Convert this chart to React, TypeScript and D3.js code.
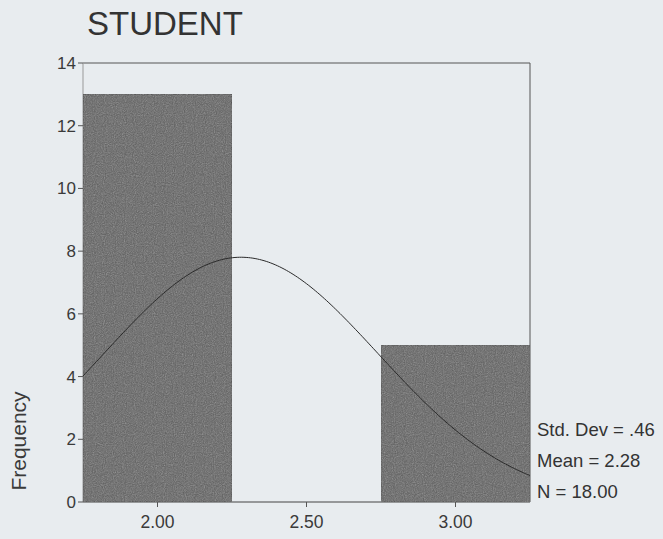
import React from "react";
import * as d3 from "d3";

const title = "STUDENT";
const binCenters = [2.0, 2.5, 3.0];
const counts = [13, 0, 5];
const binWidth = 0.5;
const xTicks = [2.0, 2.5, 3.0];
const yTicks = [0, 2, 4, 6, 8, 10, 12, 14];
const stdDev = 0.46;
const mean = 2.28;
const nCases = 18;
const statLabels = ["Std. Dev = .46", "Mean = 2.28", "N = 18.00"];

const W = 663;
const H = 539;
const left = 83;
const right = 530;
const top = 63;
const bottom = 502;

export default function App() {
  const x = d3.scaleLinear().domain([1.75, 3.25]).range([left, right]);
  const y = d3.scaleLinear().domain([0, 14]).range([bottom, top]);
  const font = "'Liberation Sans', Arial, sans-serif";

  const pdf = (v: number) =>
    (nCases * binWidth) / (stdDev * Math.sqrt(2 * Math.PI)) *
    Math.exp(-0.5 * ((v - mean) / stdDev) ** 2);
  const curvePts = d3.range(0, 201).map((i) => 1.75 + (1.5 * i) / 200);
  const line = d3
    .line<number>()
    .x((d) => x(d))
    .y((d) => y(pdf(d)))
    .curve(d3.curveMonotoneX);

  return (
    <svg
      width={W}
      height={H}
      style={{ position: "absolute", left: 0, top: 0, background: "#e8ecef" }}
      fontFamily={font}
    >
      <defs>
        <filter id="grain" x="0" y="0" width="100%" height="100%">
          <feTurbulence type="fractalNoise" baseFrequency="0.9" numOctaves="2" seed="3" result="n" />
          <feColorMatrix type="saturate" values="0" in="n" result="g" />
          <feComponentTransfer in="g" result="g2">
            <feFuncA type="table" tableValues="0 0.35" />
          </feComponentTransfer>
          <feComposite in="g2" in2="SourceGraphic" operator="in" result="c" />
          <feMerge>
            <feMergeNode in="SourceGraphic" />
            <feMergeNode in="c" />
          </feMerge>
        </filter>
      </defs>
      <rect x={0} y={0} width={W} height={H} fill="#e8ecef" />
      <text x={87} y={35} fontSize={33} fill="#333">{title}</text>

      {/* frame */}
      <line x1={left} x2={right} y1={top} y2={top} stroke="#555" strokeWidth={1} />
      <line x1={right} x2={right} y1={top} y2={bottom} stroke="#555" strokeWidth={1} />
      <line x1={left} x2={left} y1={top} y2={bottom} stroke="#999" strokeWidth={1} />
      <line x1={left} x2={right} y1={bottom} y2={bottom} stroke="#444" strokeWidth={1} />

      {binCenters.map((c, i) =>
        counts[i] > 0 ? (
          <rect
            key={i}
            x={x(c - binWidth / 2)}
            y={y(counts[i])}
            width={x(c + binWidth / 2) - x(c - binWidth / 2)}
            height={y(0) - y(counts[i])}
            fill="#5e5e5e"
            stroke="#444"
            strokeWidth={1}
            filter="url(#grain)"
          />
        ) : null
      )}

      <path d={line(curvePts) || ""} fill="none" stroke="#2a2a2a" strokeWidth={1} />

      {yTicks.map((t) => (
        <g key={t}>
          <line x1={left - 5} x2={left} y1={y(t)} y2={y(t)} stroke="#555" />
          <text x={left - 7} y={y(t)} dy="0.35em" textAnchor="end" fontSize={17} fill="#3a3a3a">
            {t}
          </text>
        </g>
      ))}
      {xTicks.map((t) => (
        <g key={t}>
          <line x1={x(t)} x2={x(t)} y1={bottom} y2={bottom + 5} stroke="#555" />
          <text x={x(t)} y={bottom + 20} dy="0.35em" textAnchor="middle" fontSize={17.5} fill="#3a3a3a">
            {t.toFixed(2)}
          </text>
        </g>
      ))}
      <text
        transform={`translate(26,441) rotate(-90)`}
        textAnchor="middle"
        fontSize={21}
        fill="#3a3a3a"
      >
        Frequency
      </text>
      {statLabels.map((s, i) => (
        <text key={s} x={537} y={430 + i * 31} dy="0.35em" fontSize={18.5} fill="#333">
          {s}
        </text>
      ))}
    </svg>
  );
}
